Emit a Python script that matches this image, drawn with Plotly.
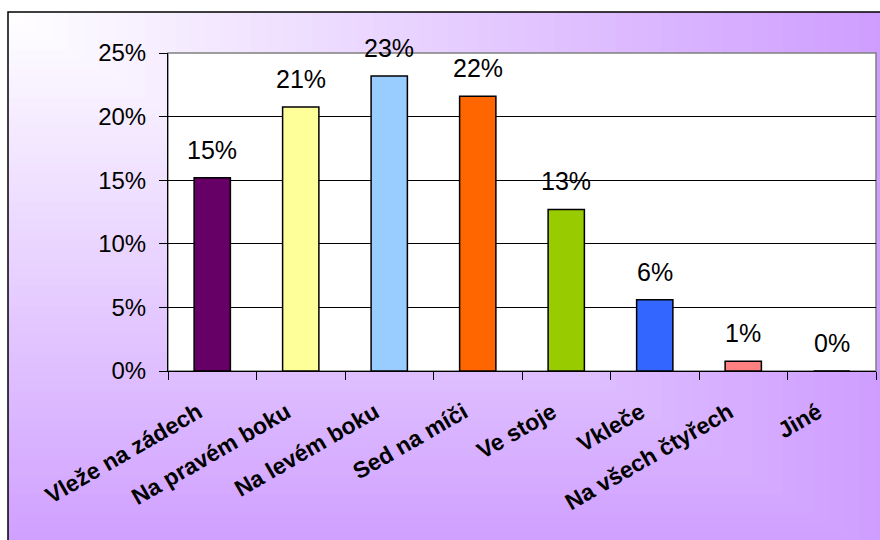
import plotly.graph_objects as go

# Birth positions and their share of responses
categories = ["Vleže na zádech", "Na pravém boku", "Na levém boku", "Sed na míči",
              "Ve stoje", "Vkleče", "Na všech čtyřech", "Jiné"]
shares = [0.152, 0.2075, 0.232, 0.216, 0.127, 0.056, 0.0076, 0.0]
bar_colors = ["#660066", "#FFFF99", "#99CCFF", "#FF6600",
              "#99CC00", "#3366FF", "#FF8080", "#FFFFFF"]
y_ticks = [0, 0.05, 0.10, 0.15, 0.20, 0.25]

W, H = 880, 540
L, R, T, B = 168, 876, 53, 371  # plot area in pixels
FONT = "Arial, Liberation Sans"


def px(x):
    return (x - L) / (R - L)


def py(y):
    return (B - y) / (B - T)


fig = go.Figure(go.Bar(
    x=categories, y=shares,
    marker=dict(color=bar_colors, line=dict(color="black", width=1.5)),
    hoverinfo="skip",
))

# value labels above the bars
for c, v in zip(categories, shares):
    fig.add_annotation(x=c, y=v, text=f"{v * 100:.0f}%", showarrow=False,
                       yanchor="bottom", yshift=12,
                       font=dict(family=FONT, size=25, color="black"))

# background: white-to-lilac gradient spreading from the top-left corner
shapes = []
x0, y0 = 8, 12
N = 60
c0 = (255, 255, 255)
c1 = (204, 153, 255)
for i in range(N, 0, -1):
    t = i / N
    tc = (i - 0.5) / N
    col = tuple(round(a + (b - a) * tc) for a, b in zip(c0, c1))
    shapes.append(dict(type="rect", xref="paper", yref="paper", layer="below",
                       x0=px(x0), y0=py(y0),
                       x1=px(x0 + t * (W + 40 - x0)), y1=py(y0 + t * (H + 40 - y0)),
                       line=dict(width=0), fillcolor="rgb(%d,%d,%d)" % col))
# outer chart border
shapes.append(dict(type="rect", xref="paper", yref="paper", layer="below",
                   x0=px(x0), y0=py(y0), x1=px(W + 20), y1=py(H + 20),
                   line=dict(color="black", width=1.5), fillcolor="rgba(0,0,0,0)"))
# plot area
shapes.append(dict(type="rect", xref="paper", yref="paper", layer="below",
                   x0=0, y0=0, x1=1, y1=1,
                   line=dict(color="#808080", width=1.5), fillcolor="white"))

fig.update_layout(
    width=W, height=H,
    margin=dict(l=L, r=W - R, t=T, b=H - B),
    paper_bgcolor="white",
    plot_bgcolor="rgba(0,0,0,0)",
    showlegend=False,
    bargap=0.59,
    shapes=shapes,
    font=dict(family=FONT, color="black"),
)
fig.update_yaxes(
    range=[0, 0.25], tickvals=y_ticks, tickformat=".0%",
    showgrid=True, gridcolor="black", gridwidth=1, zeroline=False,
    showline=True, linecolor="black", linewidth=1,
    ticks="outside", ticklen=8, tickcolor="black",
    ticklabelstandoff=8,
    tickfont=dict(size=24, family=FONT, color="black"),
)
fig.update_xaxes(
    showline=True, linecolor="black", linewidth=1,
    ticks="outside", ticklen=8, tickcolor="black", tickson="boundaries",
    tickangle=-30, showgrid=False,
    ticklabelstandoff=18, ticklabelshift=-14,
    tickfont=dict(size=23, family=FONT, color="black", weight="bold"),
)

fig.write_html("out.html")
